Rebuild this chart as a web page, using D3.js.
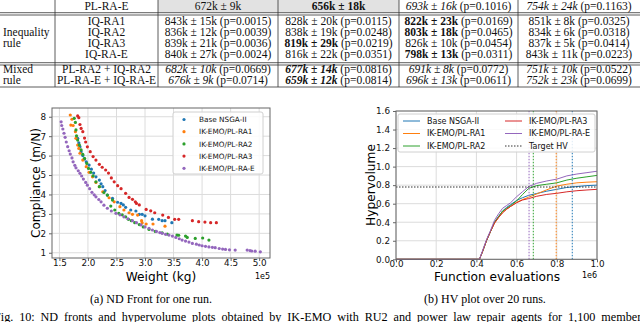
<!DOCTYPE html>
<html>
<head>
<meta charset="utf-8">
<script src="https://cdn.jsdelivr.net/npm/d3@7"></script>
<style>
body { margin: 0; background: #fff; }
svg { display: block; }
</style>
</head>
<body>
<svg id="fig" width="640" height="322"></svg>
<script>
// ---- table ----
const tableRows = ["PL-RA-E", "IQ-RA1", "IQ-RA2", "IQ-RA3", "IQ-RA-E", "PL-RA2 + IQ-RA2", "PL-RA-E + IQ-RA-E"];
const tableMeans = [
  ["672k ± 9k", "656k ± 18k", "693k ± 16k", "754k ± 24k"],
  ["843k ± 15k", "828k ± 20k", "822k ± 23k", "851k ± 8k"],
  ["836k ± 12k", "838k ± 19k", "803k ± 18k", "834k ± 6k"],
  ["839k ± 21k", "819k ± 29k", "826k ± 10k", "837k ± 5k"],
  ["840k ± 27k", "816k ± 22k", "798k ± 13k", "843k ± 11k"],
  ["682k ± 10k", "677k ± 14k", "691k ± 8k", "751k ± 10k"],
  ["676k ± 9k", "659k ± 12k", "696k ± 13k", "752k ± 23k"]
];
const tablePvals = [
  [null, null, "0.1016", "0.1163"],
  ["0.0015", "0.0115", "0.0169", "0.0325"],
  ["0.0039", "0.0248", "0.0465", "0.0318"],
  ["0.0036", "0.0219", "0.0454", "0.0414"],
  ["0.0024", "0.0351", "0.0311", "0.0223"],
  ["0.0669", "0.0816", "0.0772", "0.0522"],
  ["0.0714", "0.0814", "0.0611", "0.0699"]
];
// n = normal, b = bold, i = italic, bi = bold italic
const tableStyles = [
  ["n", "b", "i", "i"],
  ["n", "n", "b", "n"],
  ["n", "n", "b", "n"],
  ["n", "b", "n", "n"],
  ["n", "n", "b", "n"],
  ["i", "bi", "i", "i"],
  ["i", "bi", "i", "i"]
];
const tableGroups = [["Inequality", "rule"], ["Mixed", "rule"]];

// ---- scatter: ND front for one run (weight in 1e5 kg, compliance in m/N) ----
const seriesNames = ["Base NSGA-II", "IK-EMO/PL-RA1", "IK-EMO/PL-RA2", "IK-EMO/PL-RA3", "IK-EMO/PL-RA-E"];
const colors = ["#1f77b4", "#ff7f0e", "#2ca02c", "#d62728", "#9467bd"];

const frontBase = [[1.82,6.89],[1.84,6.65],[1.86,6.46],[1.88,6.2],[1.91,6.0],[1.94,5.82],[1.97,5.68],[2.02,5.51],
  [2.06,5.3],[2.10,5.1],[2.14,4.91],[2.20,4.74],[2.23,4.55],[2.26,4.4],[2.30,4.2],[2.34,3.97],[2.43,3.8],[2.52,3.6],
  [2.58,3.54],[2.62,3.46],[2.66,3.34],[2.75,3.2],[2.84,3.15],[2.90,2.98],[2.95,2.98],[3.0,2.9],[3.13,2.73],
  [3.24,2.72],[3.30,2.65],[3.35,2.65],[3.47,2.55]];
const frontRA1 = [[1.69,8.09],[1.72,7.87],[1.70,7.57],[1.74,7.55],[1.78,7.23],[1.79,6.89],[1.82,6.54],[1.84,6.37],
  [1.86,6.12],[1.91,5.77],[1.97,5.43],[2.02,5.14],[2.08,4.91],[2.14,4.62],[2.20,4.4],[2.26,4.14],[2.37,3.83],
  [2.46,3.62],[2.56,3.37],[2.63,3.2],[2.72,3.06],[2.78,2.98],[2.87,2.94],[2.94,2.65],[2.95,2.54],[3.02,2.48],
  [3.14,2.48],[3.35,2.37]];
const frontRA2 = [[1.76,7.92],[1.78,7.71],[1.79,7.32],[1.80,7.02],[1.82,6.8],[1.85,6.54],[1.88,6.29],[1.91,6.06],
  [1.94,5.86],[1.98,5.6],[2.01,5.34],[2.05,5.14],[2.09,4.96],[2.14,4.65],[2.20,4.4],[2.28,4.1],[2.34,3.97],
  [2.43,3.71],[2.40,3.40],[2.47,3.2],[2.54,3.03],[2.60,2.95],[2.66,2.85],[2.71,2.72],[2.76,2.65],[2.82,2.55],
  [2.90,2.45],[2.97,2.33],[3.07,2.2],[3.18,2.1],[3.30,2.03],[3.39,1.96],[3.56,1.91],[3.59,1.9],[3.71,1.86],
  [3.74,1.79],[3.88,1.74],[4.01,1.76],[4.12,1.65]];
const frontRA3 = [[1.82,8.04],[1.84,7.95],[1.86,7.6],[1.88,7.4],[1.91,7.23],[1.94,6.9],[1.96,6.7],[1.99,6.45],
  [2.04,6.2],[2.09,5.95],[2.14,5.77],[2.20,5.55],[2.25,5.4],[2.31,5.26],[2.36,5.1],[2.41,4.85],[2.46,4.65],
  [2.52,4.45],[2.58,4.3],[2.66,4.06],[2.72,3.85],[2.78,3.75],[2.83,3.62],[2.85,3.54],[2.90,3.46],[3.02,3.23],
  [3.10,3.16],[3.17,3.06],[3.31,2.94],[3.41,2.82],[3.52,2.72],[3.59,2.72],[3.83,2.65],[3.94,2.6],[4.05,2.58],
  [4.15,2.55],[4.25,2.55]];
const frontRAE = [[1.53,7.74],[1.54,7.55],[1.56,7.37],[1.58,7.15],[1.60,6.94],[1.62,6.7],[1.645,6.46],[1.67,6.25],
  [1.69,6.08],[1.72,5.88],[1.74,5.68],[1.77,5.5],[1.79,5.37],[1.83,5.22],[1.86,5.09],[1.89,4.95],[1.92,4.79],
  [1.96,4.62],[1.99,4.48],[2.03,4.3],[2.07,4.11],[2.11,3.98],[2.14,3.88],[2.19,3.74],[2.23,3.62],[2.28,3.45],
  [2.34,3.29],[2.41,3.15],[2.49,3.03],[2.56,2.95],[2.63,2.85],[2.70,2.75],[2.78,2.65],[2.85,2.55],[2.93,2.43],
  [3.00,2.33],[3.07,2.26],[3.13,2.17],[3.20,2.1],[3.26,2.04],[3.30,2.0],[3.36,1.95],[3.42,1.91],[3.48,1.86],
  [3.54,1.79],[3.60,1.72],[3.65,1.65],[3.71,1.6],[3.77,1.55],[3.83,1.48],[3.90,1.44],[3.95,1.4],[4.0,1.36],
  [4.06,1.33],[4.12,1.3],[4.18,1.28],[4.23,1.26],[4.30,1.22],[4.36,1.19],[4.41,1.17],[4.48,1.15],[4.58,1.14],
  [4.79,1.14],[4.84,1.11],[4.87,1.09],[4.93,1.08],[5.02,1.05]];
const fronts = [frontBase, frontRA1, frontRA2, frontRA3, frontRAE];
const weightTicks = [1.5, 2.0, 2.5, 3.0, 3.5, 4.0, 4.5, 5.0];
const complianceTicks = [1, 2, 3, 4, 5, 6, 7, 8];

// ---- HV over 20 runs ----
const evals = [0, 100000, 200000, 300000, 400000, 415000, 430000, 450000, 470000, 490000, 510000, 530000, 550000,
  570000, 600000, 630000, 660000, 700000, 750000, 800000, 850000, 900000, 950000, 1000000];
const hvBase = [0,0,0,0,0,0,0.08,0.2,0.3,0.4,0.46,0.52,0.56,0.59,0.635,0.665,0.69,0.71,0.735,0.755,0.775,0.785,0.795,0.80];
const hvRA1  = [0,0,0,0,0,0,0.08,0.2,0.3,0.39,0.45,0.51,0.54,0.57,0.615,0.645,0.67,0.705,0.75,0.79,0.81,0.825,0.832,0.837];
const hvRA2  = [0,0,0,0,0,0,0.08,0.2,0.3,0.4,0.46,0.52,0.55,0.58,0.63,0.70,0.765,0.795,0.81,0.825,0.855,0.875,0.89,0.905];
const hvRA3  = [0,0,0,0,0,0,0.08,0.2,0.3,0.39,0.45,0.50,0.54,0.57,0.61,0.64,0.655,0.68,0.70,0.712,0.728,0.74,0.748,0.755];
const hvRAE  = [0,0,0,0,0,0,0.09,0.21,0.31,0.42,0.49,0.55,0.58,0.61,0.675,0.73,0.785,0.82,0.845,0.865,0.9,0.92,0.935,0.95];
const hvSeries = [hvBase, hvRA1, hvRA2, hvRA3, hvRAE];
const reachEvals = [877000, 797000, 683000, null, 662000]; // when each mean curve hits the target
const targetHV = 0.78;
const evalTicks = [0, 200000, 400000, 600000, 800000, 1000000];
const hvTicks = [0, 0.2, 0.4, 0.6, 0.8, 1.0, 1.2, 1.4, 1.6];

const svg = d3.select("#fig");
const serif = "'Liberation Serif', 'Times New Roman', serif";
const sans = "'DejaVu Sans', sans-serif";

// ================= table =================
const colX = [55, 158, 278, 399, 518, 640];
const rowY = [6, 21, 32.2, 43.3, 54.4, 69, 80.5];
const tbl = svg.append("g").attr("font-family", serif).attr("font-size", 11.5).attr("fill", "#111");

tbl.selectAll("rect.shade").data([0, 1]).enter().append("rect")
  .attr("x", d => colX[d + 1]).attr("y", 0)
  .attr("width", d => colX[d + 2] - colX[d + 1]).attr("height", 12.5)
  .attr("fill", "#e2e2e2");

[12.7, 15, 62.7, 65, 87].forEach(y => {
  tbl.append("line").attr("x1", 0).attr("x2", 640).attr("y1", y).attr("y2", y)
    .attr("stroke", "#333").attr("stroke-width", 0.8);
});
colX.slice(0, 5).forEach(x => {
  tbl.append("line").attr("x1", x).attr("x2", x).attr("y1", 0).attr("y2", 87)
    .attr("stroke", "#333").attr("stroke-width", 0.8);
});

tableRows.forEach((name, r) => {
  tbl.append("text").attr("x", (colX[0] + colX[1]) / 2).attr("y", rowY[r] + 3.8)
    .attr("text-anchor", "middle").text(name);
  tableMeans[r].forEach((m, c) => {
    const st = tableStyles[r][c];
    const t = tbl.append("text").attr("x", (colX[c + 1] + colX[c + 2]) / 2).attr("y", rowY[r] + 3.8)
      .attr("text-anchor", "middle");
    t.append("tspan").text(m)
      .attr("font-weight", st.includes("b") ? "bold" : "normal")
      .attr("font-style", st.includes("i") ? "italic" : "normal");
    if (tablePvals[r][c]) t.append("tspan").text(" (p=" + tablePvals[r][c] + ")");
  });
});
[[32.2, 43.3], [69, 80.5]].forEach((ys, g) => {
  ys.forEach((y, k) => tbl.append("text").attr("x", 3).attr("y", y + 3.8).text(tableGroups[g][k]));
});

// ================= scatter =================
const x1 = d3.scaleLinear().domain([1.37, 5.19]).range([52, 270]);
const y1 = d3.scaleLinear().domain([0.73, 8.45]).range([258, 108]);
const p1 = svg.append("g");

p1.append("g").selectAll("line").data(weightTicks).enter().append("line")
  .attr("x1", d => x1(d)).attr("x2", d => x1(d)).attr("y1", 108).attr("y2", 258)
  .attr("stroke", "#dcdcdc").attr("stroke-width", 1);
p1.append("g").selectAll("line").data(complianceTicks).enter().append("line")
  .attr("y1", d => y1(d)).attr("y2", d => y1(d)).attr("x1", 52).attr("x2", 270)
  .attr("stroke", "#dcdcdc").attr("stroke-width", 1);

fronts.forEach((pts, i) => {
  p1.append("g").selectAll("circle").data(pts).enter().append("circle")
    .attr("cx", d => x1(d[0])).attr("cy", d => y1(d[1])).attr("r", 1.6)
    .attr("fill", colors[i]);
});

p1.append("rect").attr("x", 52).attr("y", 108).attr("width", 218).attr("height", 150)
  .attr("fill", "none").attr("stroke", "#666").attr("stroke-width", 1);

const ax1 = p1.append("g").attr("transform", "translate(0,258)")
  .call(d3.axisBottom(x1).tickValues(weightTicks).tickFormat(d3.format(".1f")).tickSize(3));
const ay1 = p1.append("g").attr("transform", "translate(52,0)")
  .call(d3.axisLeft(y1).tickValues(complianceTicks).tickFormat(d3.format("d")).tickSize(3));
[ax1, ay1].forEach(a => {
  a.select(".domain").remove();
  a.selectAll("line").attr("stroke", "#666");
  a.selectAll("text").attr("font-family", sans).attr("font-size", 8.8).attr("fill", "#111");
});
ax1.selectAll("text").attr("y", 1.5).attr("dy", "0.71em");

p1.append("text").attr("x", 161).attr("y", 281).attr("text-anchor", "middle")
  .attr("font-family", sans).attr("font-size", 12.2).text("Weight (kg)");
p1.append("text").attr("transform", "translate(40,183) rotate(-90)").attr("text-anchor", "middle")
  .attr("font-family", sans).attr("font-size", 12.2).text("Compliance (m/N)");
p1.append("text").attr("x", 270).attr("y", 279).attr("text-anchor", "end")
  .attr("font-family", sans).attr("font-size", 8).text("1e5");

const lg1 = p1.append("g");
lg1.append("rect").attr("x", 173).attr("y", 112).attr("width", 90).attr("height", 62).attr("rx", 2)
  .attr("fill", "#fff").attr("fill-opacity", 0.85).attr("stroke", "#d0d0d0");
seriesNames.forEach((n, i) => {
  const y = 119.5 + i * 12.2;
  lg1.append("circle").attr("cx", 184).attr("cy", y).attr("r", 1.6).attr("fill", colors[i]);
  lg1.append("text").attr("x", 199).attr("y", y + 2.6).attr("font-family", sans).attr("font-size", 7.3)
    .attr("fill", "#111").text(n);
});

// ================= HV plot =================
const x2 = d3.scaleLinear().domain([0, 1000000]).range([396, 597]);
const y2 = d3.scaleLinear().domain([0, 1.6]).range([259.3, 111]);
const p2 = svg.append("g");

p2.append("g").selectAll("line").data(evalTicks).enter().append("line")
  .attr("x1", d => x2(d)).attr("x2", d => x2(d)).attr("y1", 111).attr("y2", 259.3)
  .attr("stroke", "#dcdcdc").attr("stroke-width", 1);
p2.append("g").selectAll("line").data(hvTicks).enter().append("line")
  .attr("y1", d => y2(d)).attr("y2", d => y2(d)).attr("x1", 396).attr("x2", 597)
  .attr("stroke", "#dcdcdc").attr("stroke-width", 1);

const line2 = d3.line().x((d, i) => x2(evals[i])).y(d => y2(d));
hvSeries.forEach((s, i) => {
  p2.append("path").datum(s).attr("d", line2).attr("fill", "none")
    .attr("stroke", colors[i]).attr("stroke-width", 1);
});
reachEvals.forEach((e, i) => {
  if (e === null) return;
  p2.append("line").attr("x1", x2(e)).attr("x2", x2(e)).attr("y1", y2(0)).attr("y2", y2(1.6))
    .attr("stroke", colors[i]).attr("stroke-width", 1).attr("stroke-dasharray", "1.5,1.5");
});
p2.append("line").attr("x1", x2(0)).attr("x2", x2(1000000)).attr("y1", y2(targetHV)).attr("y2", y2(targetHV))
  .attr("stroke", "#333").attr("stroke-width", 1.1).attr("stroke-dasharray", "1.5,1.5");

p2.append("rect").attr("x", 396).attr("y", 111).attr("width", 201).attr("height", 148.3)
  .attr("fill", "none").attr("stroke", "#666").attr("stroke-width", 1);

const ax2 = p2.append("g").attr("transform", "translate(0,259.3)")
  .call(d3.axisBottom(x2).tickValues(evalTicks).tickFormat(d => (d / 1e6).toFixed(1)).tickSize(3));
const ay2 = p2.append("g").attr("transform", "translate(396,0)")
  .call(d3.axisLeft(y2).tickValues(hvTicks).tickFormat(d3.format(".1f")).tickSize(3));
[ax2, ay2].forEach(a => {
  a.select(".domain").remove();
  a.selectAll("line").attr("stroke", "#666");
  a.selectAll("text").attr("font-family", sans).attr("font-size", 8.8).attr("fill", "#111");
});
ax2.selectAll("text").attr("y", 1.5).attr("dy", "0.71em");

p2.append("text").attr("x", 497).attr("y", 281).attr("text-anchor", "middle")
  .attr("font-family", sans).attr("font-size", 12.2).text("Function evaluations");
p2.append("text").attr("transform", "translate(375,185) rotate(-90)").attr("text-anchor", "middle")
  .attr("font-family", sans).attr("font-size", 12.2).text("Hypervolume");
p2.append("text").attr("x", 597).attr("y", 278).attr("text-anchor", "end")
  .attr("font-family", sans).attr("font-size", 8).text("1e6");

const lg2 = p2.append("g");
lg2.append("rect").attr("x", 398).attr("y", 114).attr("width", 197).attr("height", 38).attr("rx", 2)
  .attr("fill", "#fff").attr("fill-opacity", 0.85).attr("stroke", "#d0d0d0");
const legend2 = seriesNames.map((n, i) => ({ name: n, color: colors[i], dash: null }))
  .concat([{ name: "Target HV", color: "#333", dash: "1.5,1.5" }]);
legend2.forEach((d, i) => {
  const col = Math.floor(i / 3), row = i % 3;
  const lx = col === 0 ? 403 : 505, y = 121 + row * 12.5;
  lg2.append("line").attr("x1", lx).attr("x2", lx + 17).attr("y1", y).attr("y2", y)
    .attr("stroke", d.color).attr("stroke-width", 1).attr("stroke-dasharray", d.dash);
  lg2.append("text").attr("x", lx + 24).attr("y", y + 2.9).attr("font-family", sans).attr("font-size", 8)
    .attr("fill", "#111").text(d.name);
});

// ================= captions =================
svg.append("text").attr("x", 151).attr("y", 303).attr("text-anchor", "middle")
  .attr("font-family", serif).attr("font-size", 12).text("(a) ND Front for one run.");
svg.append("text").attr("x", 485).attr("y", 303).attr("text-anchor", "middle")
  .attr("font-family", serif).attr("font-size", 12).text("(b) HV plot over 20 runs.");
svg.append("text").attr("x", -6).attr("y", 320.5)
  .attr("font-family", serif).attr("font-size", 12.2).attr("word-spacing", 2.8)
  .text("Fig. 10: ND fronts and hypervolume plots obtained by IK-EMO with RU2 and power law repair agents for 1,100 members");
</script>
</body>
</html>
